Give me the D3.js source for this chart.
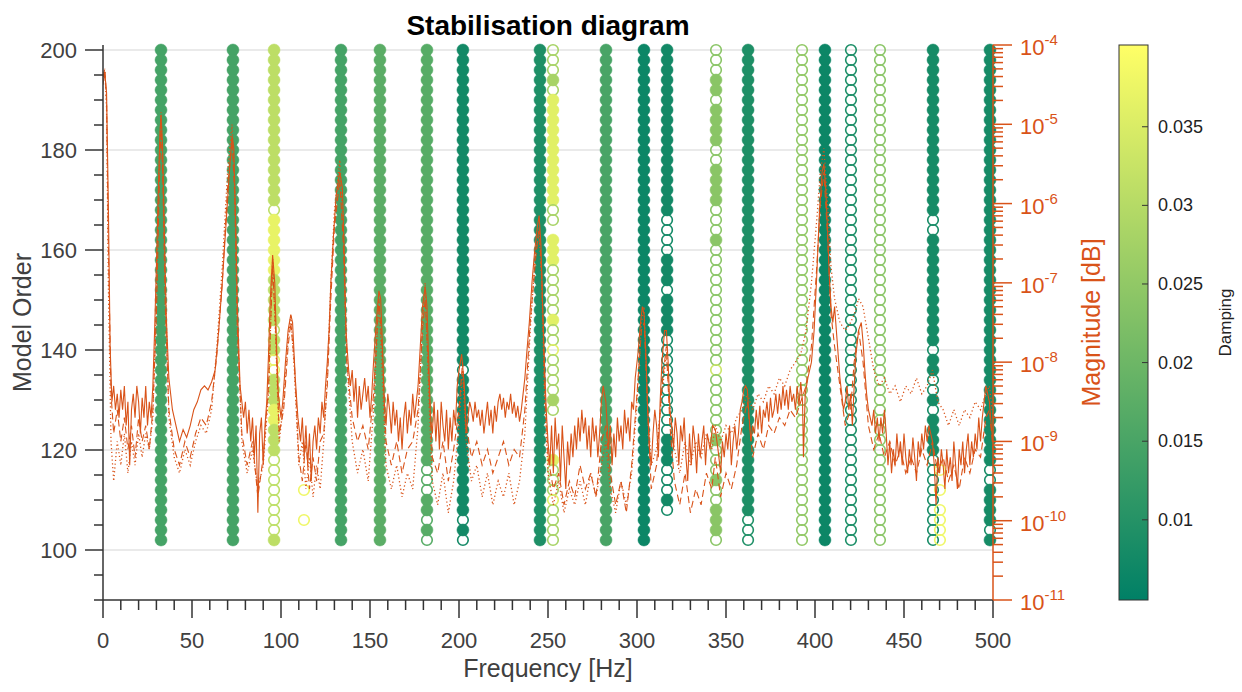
<!DOCTYPE html>
<html><head><meta charset="utf-8">
<script src="https://cdn.jsdelivr.net/npm/d3@7"></script>
<style>
body{margin:0;background:#fff;}
svg{display:block;font-family:"Liberation Sans",Arial,Helvetica,sans-serif;}
</style></head><body>
<svg id="chart" width="1242" height="692"></svg>
<script>
// ---------------- DATA ----------------
const freqTicks = [0,50,100,150,200,250,300,350,400,450,500];
const orderTicks = [100,120,140,160,180,200];
const magTickExponents = [-11,-10,-9,-8,-7,-6,-5,-4];
const dampingTicks = [0.01,0.015,0.02,0.025,0.03,0.035];
const modelOrders = [200,198,196,194,192,190,188,186,184,182,180,178,176,174,172,170,168,166,164,162,160,158,156,154,152,150,148,146,144,142,140,138,136,134,132,130,128,126,124,122,120,118,116,114,112,110,108,106,104,102];

const modeFreqs   = [32.6, 73.0, 96.1, 112.9, 133.7, 155.6, 182.0, 202.2, 245.5, 252.8, 282.6, 303.9, 316.9, 344.4, 362.4, 392.7, 405.6, 420.2, 436.5, 466.3, 470.2, 498.3];
const modeDamping = [0.0145,0.0145,0.031,0.038,0.0145,0.0175,0.017,0.0075,0.009,0.036,0.015,0.0065,0.0075,0.024,0.009,0.025,0.0065,0.0085,0.024,0.008,0.038,0.008];
const modeDampingAlt = [0.0145,0.0145,0.037,0.038,0.0145,0.0175,0.017,0.0075,0.009,0.028,0.015,0.0065,0.0075,0.033,0.009,0.025,0.0065,0.0085,0.024,0.008,0.038,0.008];
// one char per model order (200 -> 102): F/f filled, O/o open, . none (lower case = alternative damping)
const modePatterns = [
 "FFFFFFFFFFFFFFFFFFFFFFFFFFFFFFFFFFFFFFFFFFFFFFFFFF",
 "FFFFFFFFFFFFFFFFFFFFFFFFFFFFFFFFFFFFFFFFFFFFFFFFFF",
 "FFFFFFFFFFFFFFFFOffffffFFFFFOFFooFFFffFFFOOOOOOOOF",
 "............................................O..O..",
 "FFFFFFFFFFFFFFFFFFFFFFFFFFFFFFFFFFFFFFFFFFFFFFFFFF",
 "FFFFFFFFFFFFFFFFFFFFFFFFFFFFFFFFFFFFFFFFFFFFFFFFFF",
 "FFFFFFFFFFFFFFFFFFFFFFFFFFFFFFFFFFFFFFFFFFOOOFFOFO",
 "FFFFFFFFFFFFFFFFFFFFFFFFFFFFFFFFOFFFFFFFFFFFFFFOFO",
 "FFFFFFFFFFFFFFFFFFFFFFFFFFFFFFFFFFFFFFFFFFFFFFFFFF",
 "ooofoFFFFFFFFFFFoo.FFFoooooFooOoooofo....FoooOoooo",
 "FFFFFFFFFFFFFFFFFFFFFFFFFFFFFFFFFFFFFFFFFFFFFFFFFF",
 "FFFFFFFFFFFFFFFFFFFFFFFFFFFFFFFFFFFFFFFFFFFFFFFFFF",
 "FFFFFFFFFFFFFFFFFOOOOFFFOFFFFOOOOOOOOOOFFFOOOFO...",
 "OOOFFOFFFFOOFFFFOOOFOOOOOOOOOOOOoOOOOOOFOOOFOOFFFO",
 "FFFFFFFFFFFFFFFFFFFFFFFFFFFFFFFFFFFFFFFFFFFFFFFOOO",
 "OOOOOOOOOOOOOOOOOOOOOOOOOOOOOOOOOOOOOOOOOOOOOOOOOO",
 "FFFFFFFFFFFFFFFFFFFFFFFFFFFFFFFFFFFFFFFFFFFFFFFFFF",
 "OOOOOOOOOOOOOOOOOOOOOOOOOOOOOOOOOOOOOOOOOOOOOOOOOO",
 "OOOOOOOOOOOOOOOOOOOOOOOOOOOOOOOOOOOOOOOOOOOOOOOOOO",
 "FFFFFFFFFFFFFFFFFOOFFFFFFFFFFFOFFOOFOFFFFOOOOOOOOO",
 "..........................................O.O.OOOO",
 "FFFFFFFFFFFFFFFFFFFFFFFFFFFFFFFFFFFFFFFFFFOOFFFFOF"
];

// FRF magnitudes as [frequency Hz, log10(magnitude)]
const frfSolid = [
[0,-4.5],[1,-4.35],[2,-4.6],[3,-6.0],[4,-7.8],[5,-8.5],[6,-8.3],[7,-8.6],[8,-8.4],[9,-8.7],[10,-8.35],[11,-8.6],[12,-8.3],[13,-8.8],[14,-8.5],[15,-9.3],[16,-8.6],[17,-8.4],[18,-8.7],[19,-8.3],[20,-8.5],[21,-8.9],[22,-8.45],[23,-8.7],[24,-8.3],[25,-8.8],[26,-8.5],[27,-8.7],[28,-8.3],
[29,-7.6],[30,-6.8],[31,-5.9],[32,-5.1],[32.6,-4.88],[33.5,-5.3],[34.5,-6.4],[35.5,-7.4],[37,-8.2],[39,-8.6],[41,-8.8],[43,-9.0],[45,-8.85],[47,-8.95],[49,-8.8],[51,-8.6],[53,-8.5],[55,-8.35],[57,-8.3],[59,-8.35],[61,-8.25],[63,-8.1],
[65,-7.6],[67,-7.0],[69,-6.3],[71,-5.6],[72.5,-5.15],[73.5,-5.3],[74.5,-6.2],[75.5,-7.3],[77,-8.3],[79,-8.7],[80,-8.5],[81,-8.9],[82,-8.6],[83,-9.0],[84,-8.7],[85,-9.2],[86,-8.8],[87,-9.9],[88,-8.9],[89,-8.7],[90,-9.3],[91,-8.8],[92,-8.5],
[93,-7.9],[94,-7.2],[95.3,-6.65],[96.5,-7.0],[97.5,-7.8],[98.5,-8.4],[100,-8.7],[101,-8.5],[102.5,-8.0],[104,-7.6],[105.5,-7.4],[106.5,-7.5],[108,-8.2],[109.5,-8.7],[111,-9.0],[112,-8.7],[113,-9.2],[114,-8.8],[115,-9.3],[116,-8.9],[117,-9.5],[118,-9.0],[119,-8.8],[120,-9.1],[121,-8.7],[122,-8.9],[123,-8.5],[124,-8.7],[125,-8.3],
[126,-8.0],[127,-7.6],[128,-7.0],[129.5,-6.4],[131,-5.9],[133,-5.6],[134.5,-5.8],[135.5,-6.6],[136.5,-7.6],[138,-8.1],[139,-8.3],[140,-8.1],[141,-8.5],[142,-8.2],[143,-8.7],[144,-8.3],[145,-8.6],[146,-8.4],[147,-8.2],[148,-8.5],[149,-8.3],[150,-8.7],[151,-8.4],
[152,-8.0],[153.5,-7.5],[155,-7.1],[156,-7.2],[157,-7.8],[158,-8.5],[159,-8.8],[160,-8.4],[161,-8.6],[162,-8.9],[163,-8.5],[164,-8.8],[165,-8.6],[166,-9.0],[167,-8.7],[168,-9.1],[169,-8.7],[170,-8.5],[171,-8.9],[172,-8.6],[173,-8.8],[174,-8.4],[175,-8.7],[176,-8.5],[177,-8.3],
[178,-7.9],[179.5,-7.3],[181,-7.05],[182,-7.3],[183,-8.0],[184,-8.7],[185,-8.9],[186,-8.5],[187,-9.0],[188,-8.6],[189,-9.1],[190,-8.5],[191,-8.8],[192,-9.0],[193,-8.6],[194,-9.1],[195,-8.7],[196,-9.0],[197,-8.6],[198,-8.8],[199,-8.3],[200,-8.1],[201.5,-7.9],[203,-8.3],[204,-8.9],
[205,-8.7],[206,-8.5],[207,-8.6],[208,-8.75],[209,-8.5],[210,-8.7],[211,-8.6],[212,-8.8],[213,-8.6],[214,-8.9],[215,-8.7],[216,-8.5],[217,-8.8],[218,-8.6],[219,-8.9],[220,-8.55],[221,-8.75],[222,-8.5],[223,-8.4],[224,-8.6],[225,-8.45],[226,-8.7],[227,-8.5],[228,-8.6],[229,-8.4],[230,-8.65],[231,-8.5],[232,-8.7],[233,-8.55],[234,-8.75],[235,-8.6],[236,-8.4],
[237,-8.2],[238,-7.9],[239.5,-7.5],[241,-7.0],[242.5,-6.6],[244,-6.3],[245,-6.15],[246,-6.5],[247,-7.3],[248,-8.0],[249,-8.6],[250,-9.0],[251,-9.3],[252,-8.8],[253,-9.4],[254,-8.7],[255,-9.1],[256,-8.9],[257,-9.5],[258,-8.8],[259,-9.2],[260,-9.6],[261,-9.0],[262,-9.3],[263,-8.9],[264,-9.2],[265,-8.8],[266,-9.1],[267,-8.7],[268,-9.0],[269,-8.6],[270,-8.9],[271,-8.7],[272,-9.1],[273,-8.8],[274,-9.2],[275,-8.7],[276,-9.0],[277,-8.8],[278,-9.2],[279,-8.9],
[280,-8.5],[281,-8.3],[282.5,-8.5],[284,-9.1],[285,-8.8],[286,-9.3],[287,-8.9],[288,-9.2],[289,-8.7],[290,-9.0],[291,-8.8],[292,-9.1],[293,-8.6],[294,-8.9],[295,-8.7],[296,-9.0],[297,-8.5],[298,-8.6],
[299,-8.2],[300.5,-7.9],[302,-7.5],[303,-7.3],[304,-7.4],[305,-7.9],[306,-8.6],[307,-9.1],[308,-9.3],[309,-8.9],[310,-8.6],[311,-8.8],[312,-9.2],[313,-8.5],[314,-8.0],[315.5,-7.6],[316.5,-7.6],[317.5,-8.0],[318.5,-8.6],[319.5,-8.8],
[320.5,-9.1],[321.5,-8.7],[322.5,-8.9],[323.5,-9.3],[324.5,-8.8],[325.5,-9.0],[326.5,-8.7],[327.5,-9.2],[328.5,-9.5],[329.5,-8.9],[330.5,-9.3],[331.5,-8.8],[332.5,-9.0],[333.5,-9.4],[334.5,-8.9],[335.5,-9.2],[336.5,-9.0],[337.5,-8.8],[338.5,-9.3],[339.5,-8.9],[341,-9.1],[342.5,-8.8],[344,-8.85],[345.5,-9.1],
[347,-9.4],[348,-9.0],[349,-9.2],[350,-8.9],[351,-9.1],[352,-8.8],[353,-9.3],[354,-9.0],[355,-8.8],[356,-9.1],[357,-8.9],[358,-8.6],[359,-8.5],[360,-8.35],[361,-8.3],[362,-8.35],[363,-8.7],[364,-9.0],[365,-8.8],[366,-8.9],[367,-8.6],[368,-8.85],[369,-8.55],[370,-8.9],
[371,-8.6],[372,-8.7],[373,-8.5],[374,-8.75],[375,-8.45],[376,-8.7],[377,-8.6],[378,-8.4],[379,-8.65],[380,-8.4],[381,-8.6],[382,-8.3],[383,-8.55],[384,-8.35],[385,-8.6],[386,-8.3],[387,-8.5],[388,-8.4],[389,-8.6],[390,-8.3],[391,-8.55],[392,-8.25],[393,-8.5],[393.5,-9.2],[394.5,-8.4],[396,-8.2],[398,-8.0],
[399.5,-7.6],[401,-6.9],[402.5,-6.1],[404,-5.6],[405,-5.5],[406,-5.8],[407,-6.3],[408,-6.9],[409,-7.3],[410,-7.5],[411,-7.3],[412,-7.6],[413,-7.9],[414,-8.2],[415,-8.4],[416,-8.6],[417,-8.5],[418,-8.3],[419,-8.6],[420,-8.4],[421,-8.8],[422,-8.3],[423,-7.9],[424.5,-7.6],[426,-7.5],[427,-7.75],[428,-8.1],[429,-8.4],[430,-8.6],
[431,-8.7],[432,-8.8],[433,-8.6],[434,-8.9],[435,-8.7],[436,-9.0],[437,-8.7],[438,-8.9],[439,-8.6],[440,-8.9],[441,-9.3],[442,-9.0],[443,-9.4],[444,-9.1],[445,-9.3],[446,-8.9],[447,-9.2],[448,-9.0],[449,-9.3],[450,-8.9],[451,-9.2],[452,-9.4],[453,-9.1],[454,-9.3],[455,-8.95],[456,-9.2],[457,-9.5],[458,-9.0],[459,-9.2],[460,-8.9],
[461,-9.1],[462,-8.8],[463,-9.0],[464,-8.8],[465,-8.9],[466,-9.0],[467,-9.3],[468,-9.8],[469,-9.2],[470,-9.4],[471,-9.1],[472,-9.3],[473,-9.6],[474,-9.1],[475,-9.4],[476,-9.2],[477,-9.5],[478,-9.0],[479,-9.3],[480,-9.6],[481,-9.1],[482,-9.3],[483,-9.0],[484,-9.4],[485,-9.1],[486,-8.9],[487,-9.3],[488,-9.0],[489,-9.2],[490,-8.9],
[491,-9.1],[492,-8.7],[493,-9.0],[494,-8.7],[495,-8.5],[496,-8.3],[497,-8.4],[498,-8.5],[499,-8.8],[500,-9.0]
];
const frfDashed = [
[0,-4.4],[1,-4.3],[2,-4.7],[3,-6.5],[4.5,-8.4],[6,-8.9],[8,-8.6],[10,-9.0],[12,-8.7],[14,-9.1],[16,-8.8],[18,-9.2],[20,-8.7],[22,-9.0],[24,-8.8],[26,-9.1],[28,-8.6],[30,-7.4],[31.5,-5.9],[32.6,-5.0],[33.5,-5.6],[35,-7.3],[37,-8.6],[40,-9.1],[43,-9.3],[46,-9.0],[49,-9.2],[52,-8.9],[55,-8.7],[58,-8.8],[61,-8.5],[64,-7.9],[67,-7.0],[70,-5.8],[72.5,-5.2],[74,-5.9],[75.5,-7.6],
[78,-8.9],[81,-9.3],[84,-9.0],[87,-9.7],[90,-9.2],[93,-8.3],[95.3,-6.8],[97,-7.6],[99,-8.9],[101.5,-8.6],[104,-7.8],[105.5,-7.5],[107.5,-8.0],[110,-9.2],[112,-9.5],[114,-9.0],[116,-9.6],[118,-9.2],[120,-9.5],[122,-9.0],[124,-8.9],[126,-8.3],[128,-7.2],[130,-6.3],[133,-5.7],[135,-6.5],[137,-8.0],[140,-8.7],[143,-9.0],[146,-8.8],[149,-9.1],[152,-8.4],[155,-7.2],[157,-7.9],
[159,-9.0],[162,-9.3],[165,-9.0],[168,-9.4],[171,-9.1],[174,-9.0],[177,-8.6],[179.5,-7.6],[181,-7.2],[183,-8.2],[185,-9.2],[188,-9.4],[191,-9.0],[194,-9.5],[197,-9.1],[200,-8.6],[202,-8.0],[204,-8.8],[207,-9.2],[210,-9.0],[213,-9.3],[216,-9.1],[219,-9.4],[222,-9.2],[225,-9.0],[228,-9.3],[231,-9.1],[234,-9.2],[237,-8.6],[240,-7.5],[243,-6.7],[245,-6.3],[246.5,-6.9],[248,-8.2],
[250,-9.2],[253,-9.6],[256,-9.4],[259,-9.8],[262,-9.5],[265,-9.7],[268,-9.3],[271,-9.6],[274,-9.4],[277,-9.7],[280,-9.0],[282.5,-8.8],[285,-9.4],[288,-9.8],[291,-9.5],[294,-9.9],[297,-9.3],[300,-8.4],[302.5,-7.6],[304,-7.5],[306,-8.6],[308,-9.6],[311,-9.3],[314,-8.3],[316.5,-7.8],[318.5,-8.8],[321,-9.5],[324,-9.8],[327,-9.4],[330,-9.9],[333,-9.6],[336,-9.8],[339,-9.4],[342,-9.6],[344,-9.2],[347,-9.7],
[350,-9.4],[353,-9.6],[356,-9.3],[359,-8.8],[362,-8.5],[365,-9.2],[368,-8.9],[371,-9.1],[374,-8.8],[377,-8.9],[380,-8.7],[383,-8.8],[386,-8.6],[389,-8.7],[392,-8.5],[395,-8.3],[398,-7.8],[401,-6.8],[403,-6.0],[405,-5.6],[407,-6.4],[409,-7.4],[411,-7.8],[414,-8.3],[417,-8.8],[420,-8.6],[422,-8.0],[424.5,-7.6],[427,-8.0],[430,-8.8],
[433,-9.1],[436,-8.9],[439,-9.2],[442,-9.0],[445,-9.3],[448,-9.1],[451,-9.4],[454,-9.2],[457,-9.4],[460,-9.1],[463,-9.3],[466,-9.0],[469,-9.4],[472,-9.2],[475,-9.5],[478,-9.3],[481,-9.6],[484,-9.2],[487,-9.4],[490,-9.1],[493,-9.2],[496,-8.7],[498,-8.6],[500,-9.1]
];
const frfDotted = [
[0,-4.45],[1,-4.3],[2,-4.8],[3,-7.0],[4.5,-9.0],[6,-9.5],[8,-9.0],[10,-9.3],[12,-8.9],[14,-9.4],[16,-9.0],[18,-9.3],[20,-8.9],[22,-9.2],[24,-8.9],[26,-9.1],[28,-8.7],[30,-7.2],[31.5,-5.6],[32.6,-4.85],[33.5,-5.4],[35,-7.0],[37,-8.7],[40,-9.2],[43,-9.4],[46,-9.1],[49,-9.3],[52,-9.0],[55,-8.8],[58,-8.9],[61,-8.6],[64,-7.8],[67,-6.8],[70,-5.6],[72.5,-5.0],[74,-5.8],[75.5,-7.5],
[78,-9.0],[81,-9.4],[84,-9.1],[87,-9.6],[90,-9.3],[93,-8.4],[95.3,-6.7],[97,-7.7],[99,-9.0],[101.5,-8.5],[104,-7.7],[105.5,-7.4],[107.5,-8.1],[110,-9.3],[112,-9.0],[114,-9.6],[116,-9.2],[118,-9.7],[120,-9.3],[122,-9.6],[124,-9.0],[126,-8.2],[128,-7.0],[130,-6.1],[133,-5.45],[135,-6.3],[137,-8.0],[140,-9.0],[143,-9.4],[146,-9.1],[149,-9.5],[152,-8.6],[155,-7.2],[157,-8.2],
[159,-9.3],[162,-9.6],[165,-9.3],[168,-9.7],[171,-9.4],[174,-9.6],[177,-8.8],[179.5,-7.5],[181,-7.0],[183,-8.4],[185,-9.5],[188,-9.8],[191,-9.4],[194,-9.9],[197,-9.5],[200,-8.8],[202,-8.1],[204,-9.0],[207,-9.5],[210,-9.3],[213,-9.7],[216,-9.4],[219,-9.8],[222,-9.5],[225,-9.7],[228,-9.4],[231,-9.8],[234,-9.5],[237,-8.9],[240,-7.6],[243,-6.6],[245,-6.4],[246.5,-7.0],[248,-8.4],
[250,-9.4],[253,-9.8],[256,-9.5],[259,-9.9],[262,-9.6],[265,-9.8],[268,-9.5],[271,-9.8],[274,-9.4],[277,-9.7],[280,-9.3],[282.5,-9.0],[285,-9.6],[288,-9.9],[291,-9.5],[294,-9.8],[297,-9.4],[300,-8.5],[302.5,-7.5],[304,-7.3],[306,-8.6],[308,-9.3],[311,-9.1],[314,-8.4],[316.5,-7.9],[318.5,-8.6],[321,-9.1],[324,-9.4],[327,-9.0],[330,-9.3],[333,-9.0],[336,-9.2],[339,-8.9],[342,-9.1],[344,-8.8],[347,-9.0],
[350,-8.8],[353,-8.9],[356,-8.7],[359,-8.6],[362,-8.4],[365,-8.6],[368,-8.4],[371,-8.5],[374,-8.3],[377,-8.4],[380,-8.2],[383,-8.3],[386,-8.1],[389,-8.0],[392,-7.9],[395,-7.6],[398,-7.0],[401,-6.2],[403,-5.6],[405,-5.3],[407,-6.0],[409,-6.8],[411,-7.2],[414,-7.5],[417,-7.6],[420,-7.5],[422,-7.4],[424.5,-7.2],[427,-7.3],[430,-7.7],
[433,-8.1],[436,-8.3],[439,-8.2],[442,-8.4],[445,-8.3],[448,-8.5],[451,-8.3],[454,-8.4],[457,-8.2],[460,-8.4],[463,-8.3],[466,-8.1],[469,-8.5],[472,-8.6],[475,-8.8],[478,-8.6],[481,-8.8],[484,-8.6],[487,-8.7],[490,-8.5],[493,-8.6],[496,-8.4],[498,-8.3],[500,-8.7]
];

// ---------------- CHART ----------------
const svg = d3.select("#chart");
const L = 103, R = 993, T = 45, B = 600;
const axisGray = "#333333", labelGray = "#404040", orange = "rgb(217,83,25)";

const x = d3.scaleLinear().domain([0,500]).range([L,R]);
const yOrd = d3.scaleLinear().domain([90,201]).range([B,T]);
const yMag = d3.scaleLog().domain([1e-11,1e-4]).range([B,T]);
const dampDomain = [0.0049,0.0402];
const color = d3.scaleLinear().domain(dampDomain).range(["rgb(0,128,102)","rgb(255,255,102)"]).interpolate(d3.interpolateRgb);

// grid
svg.append("g").selectAll("line").data(orderTicks).join("line")
  .attr("x1",L).attr("x2",R).attr("y1",d=>yOrd(d)).attr("y2",d=>yOrd(d))
  .attr("stroke","#e3e3e3").attr("stroke-width",1.5);

// stabilisation markers
const dots = [];
modeFreqs.forEach((f,ci)=>{
  const p = modePatterns[ci];
  for(let i=0;i<p.length;i++){
    const c = p[i]; if(c===".") continue;
    const alt = (c==="f"||c==="o");
    dots.push({f, order:modelOrders[i], filled:(c==="F"||c==="f"), d: alt?modeDampingAlt[ci]:modeDamping[ci]});
  }
});
svg.append("g").selectAll("circle").data(dots).join("circle")
  .attr("cx",d=>x(d.f)).attr("cy",d=>yOrd(d.order))
  .attr("r",d=>d.filled?6:5.3)
  .attr("fill",d=>d.filled?color(d.d):"none")
  .attr("stroke",d=>color(d.d))
  .attr("stroke-width",d=>d.filled?0.5:1.6);

// FRF lines
svg.append("clipPath").attr("id","clip").append("rect").attr("x",L).attr("y",T).attr("width",R-L).attr("height",B-T);
const line = d3.line().x(d=>x(d[0])).y(d=>yMag(Math.pow(10,d[1])));
const lg = svg.append("g").attr("clip-path","url(#clip)").attr("fill","none").attr("stroke",orange);
lg.append("path").datum(frfDotted).attr("d",line).attr("stroke-width",1.3).attr("stroke-dasharray","1.2,2.6");
lg.append("path").datum(frfDashed).attr("d",line).attr("stroke-width",1.1).attr("stroke-dasharray","7,4");
lg.append("path").datum(frfSolid).attr("d",line).attr("stroke-width",1.1);

// left axis
const ga = svg.append("g");
ga.append("line").attr("x1",L).attr("x2",L).attr("y1",T).attr("y2",B).attr("stroke",axisGray).attr("stroke-width",1.5);
const leftMinor = [90,95,105,110,115,125,130,135,145,150,155,165,170,175,185,190,195];
ga.selectAll(".lmin").data(leftMinor).join("line").attr("x1",L-9).attr("x2",L).attr("y1",d=>yOrd(d)).attr("y2",d=>yOrd(d)).attr("stroke",axisGray).attr("stroke-width",1.5);
ga.selectAll(".lmaj").data(orderTicks).join("line").attr("x1",L-18).attr("x2",L).attr("y1",d=>yOrd(d)).attr("y2",d=>yOrd(d)).attr("stroke",axisGray).attr("stroke-width",1.5);
ga.selectAll(".ltxt").data(orderTicks).join("text").attr("x",L-26).attr("y",d=>yOrd(d)+8).attr("text-anchor","end")
  .attr("font-size",22).attr("fill",labelGray).text(d=>d);

// bottom axis
ga.append("line").attr("x1",L).attr("x2",R).attr("y1",B).attr("y2",B).attr("stroke",axisGray).attr("stroke-width",1.5);
const bottomMinor = [10,20,30,40,60,70,80,90,110,120,130,140,160,170,180,190,210,220,230,240,260,270,280,290,310,320,330,340,360,370,380,390,410,420,430,440,460,470,480,490];
ga.selectAll(".bmin").data(bottomMinor).join("line").attr("x1",d=>x(d)).attr("x2",d=>x(d)).attr("y1",B).attr("y2",B+10).attr("stroke",axisGray).attr("stroke-width",1.5);
ga.selectAll(".bmaj").data(freqTicks).join("line").attr("x1",d=>x(d)).attr("x2",d=>x(d)).attr("y1",B).attr("y2",B+18).attr("stroke",axisGray).attr("stroke-width",1.5);
ga.selectAll(".btxt").data(freqTicks).join("text").attr("x",d=>x(d)).attr("y",B+48).attr("text-anchor","middle")
  .attr("font-size",22).attr("fill",labelGray).text(d=>d);

// right axis (log)
const gr = svg.append("g");
const rightMinor = [];
magTickExponents.slice(0,-1).forEach(e=>{ [2,3,4,5,6,7,8,9].forEach(m=>rightMinor.push(m*Math.pow(10,e))); });
gr.append("line").attr("x1",R).attr("x2",R).attr("y1",T).attr("y2",B).attr("stroke",orange).attr("stroke-width",1.5);
gr.selectAll(".rmin").data(rightMinor).join("line").attr("x1",R).attr("x2",R+10).attr("y1",d=>yMag(d)).attr("y2",d=>yMag(d)).attr("stroke",orange).attr("stroke-width",1.5);
gr.selectAll(".rmaj").data(magTickExponents).join("line").attr("x1",R).attr("x2",R+19).attr("y1",d=>yMag(Math.pow(10,d))).attr("y2",d=>yMag(Math.pow(10,d))).attr("stroke",orange).attr("stroke-width",1.5);
const rt = gr.selectAll(".rtxt").data(magTickExponents).join("text").attr("x",R+27).attr("y",d=>yMag(Math.pow(10,d))+10)
  .attr("font-size",22).attr("fill",orange);
rt.append("tspan").text("10");
rt.append("tspan").attr("dy",-10).attr("font-size",15).text(d=>String(d));

// titles
svg.append("text").attr("x",(L+R)/2).attr("y",35).attr("text-anchor","middle").attr("font-size",28).attr("font-weight","bold").attr("fill","#000").text("Stabilisation diagram");
svg.append("text").attr("x",(L+R)/2).attr("y",677).attr("text-anchor","middle").attr("font-size",25).attr("fill",labelGray).text("Frequency [Hz]");
svg.append("text").attr("transform",`translate(31,${(T+B)/2}) rotate(-90)`).attr("text-anchor","middle").attr("font-size",25).attr("fill",labelGray).text("Model Order");
svg.append("text").attr("transform",`translate(1100,${(T+B)/2}) rotate(-90)`).attr("text-anchor","middle").attr("font-size",25).attr("fill",orange).text("Magnitude [dB]");

// colorbar
const cbX = 1119, cbW = 29, cbT = 45, cbB = 600;
const defs = svg.append("defs");
const grad = defs.append("linearGradient").attr("id","cbgrad").attr("x1",0).attr("y1",1).attr("x2",0).attr("y2",0);
grad.append("stop").attr("offset","0%").attr("stop-color",color(dampDomain[0]));
grad.append("stop").attr("offset","100%").attr("stop-color",color(dampDomain[1]));
const cbScale = d3.scaleLinear().domain(dampDomain).range([cbB,cbT]);
svg.append("rect").attr("x",cbX).attr("y",cbT).attr("width",cbW).attr("height",cbB-cbT).attr("fill","url(#cbgrad)").attr("stroke","#333").attr("stroke-width",1);
const cbg = svg.append("g");
cbg.selectAll("line").data(dampingTicks).join("line").attr("x1",cbX+cbW-6).attr("x2",cbX+cbW).attr("y1",d=>cbScale(d)).attr("y2",d=>cbScale(d)).attr("stroke","#333").attr("stroke-width",1);
cbg.selectAll("text").data(dampingTicks).join("text").attr("x",cbX+cbW+10).attr("y",d=>cbScale(d)+6).attr("font-size",18).attr("fill","#222").text(d=>String(d));
svg.append("text").attr("transform",`translate(1231,${(cbT+cbB)/2}) rotate(-90)`).attr("text-anchor","middle").attr("font-size",17).attr("fill","#222").text("Damping");
</script>
</body></html>
